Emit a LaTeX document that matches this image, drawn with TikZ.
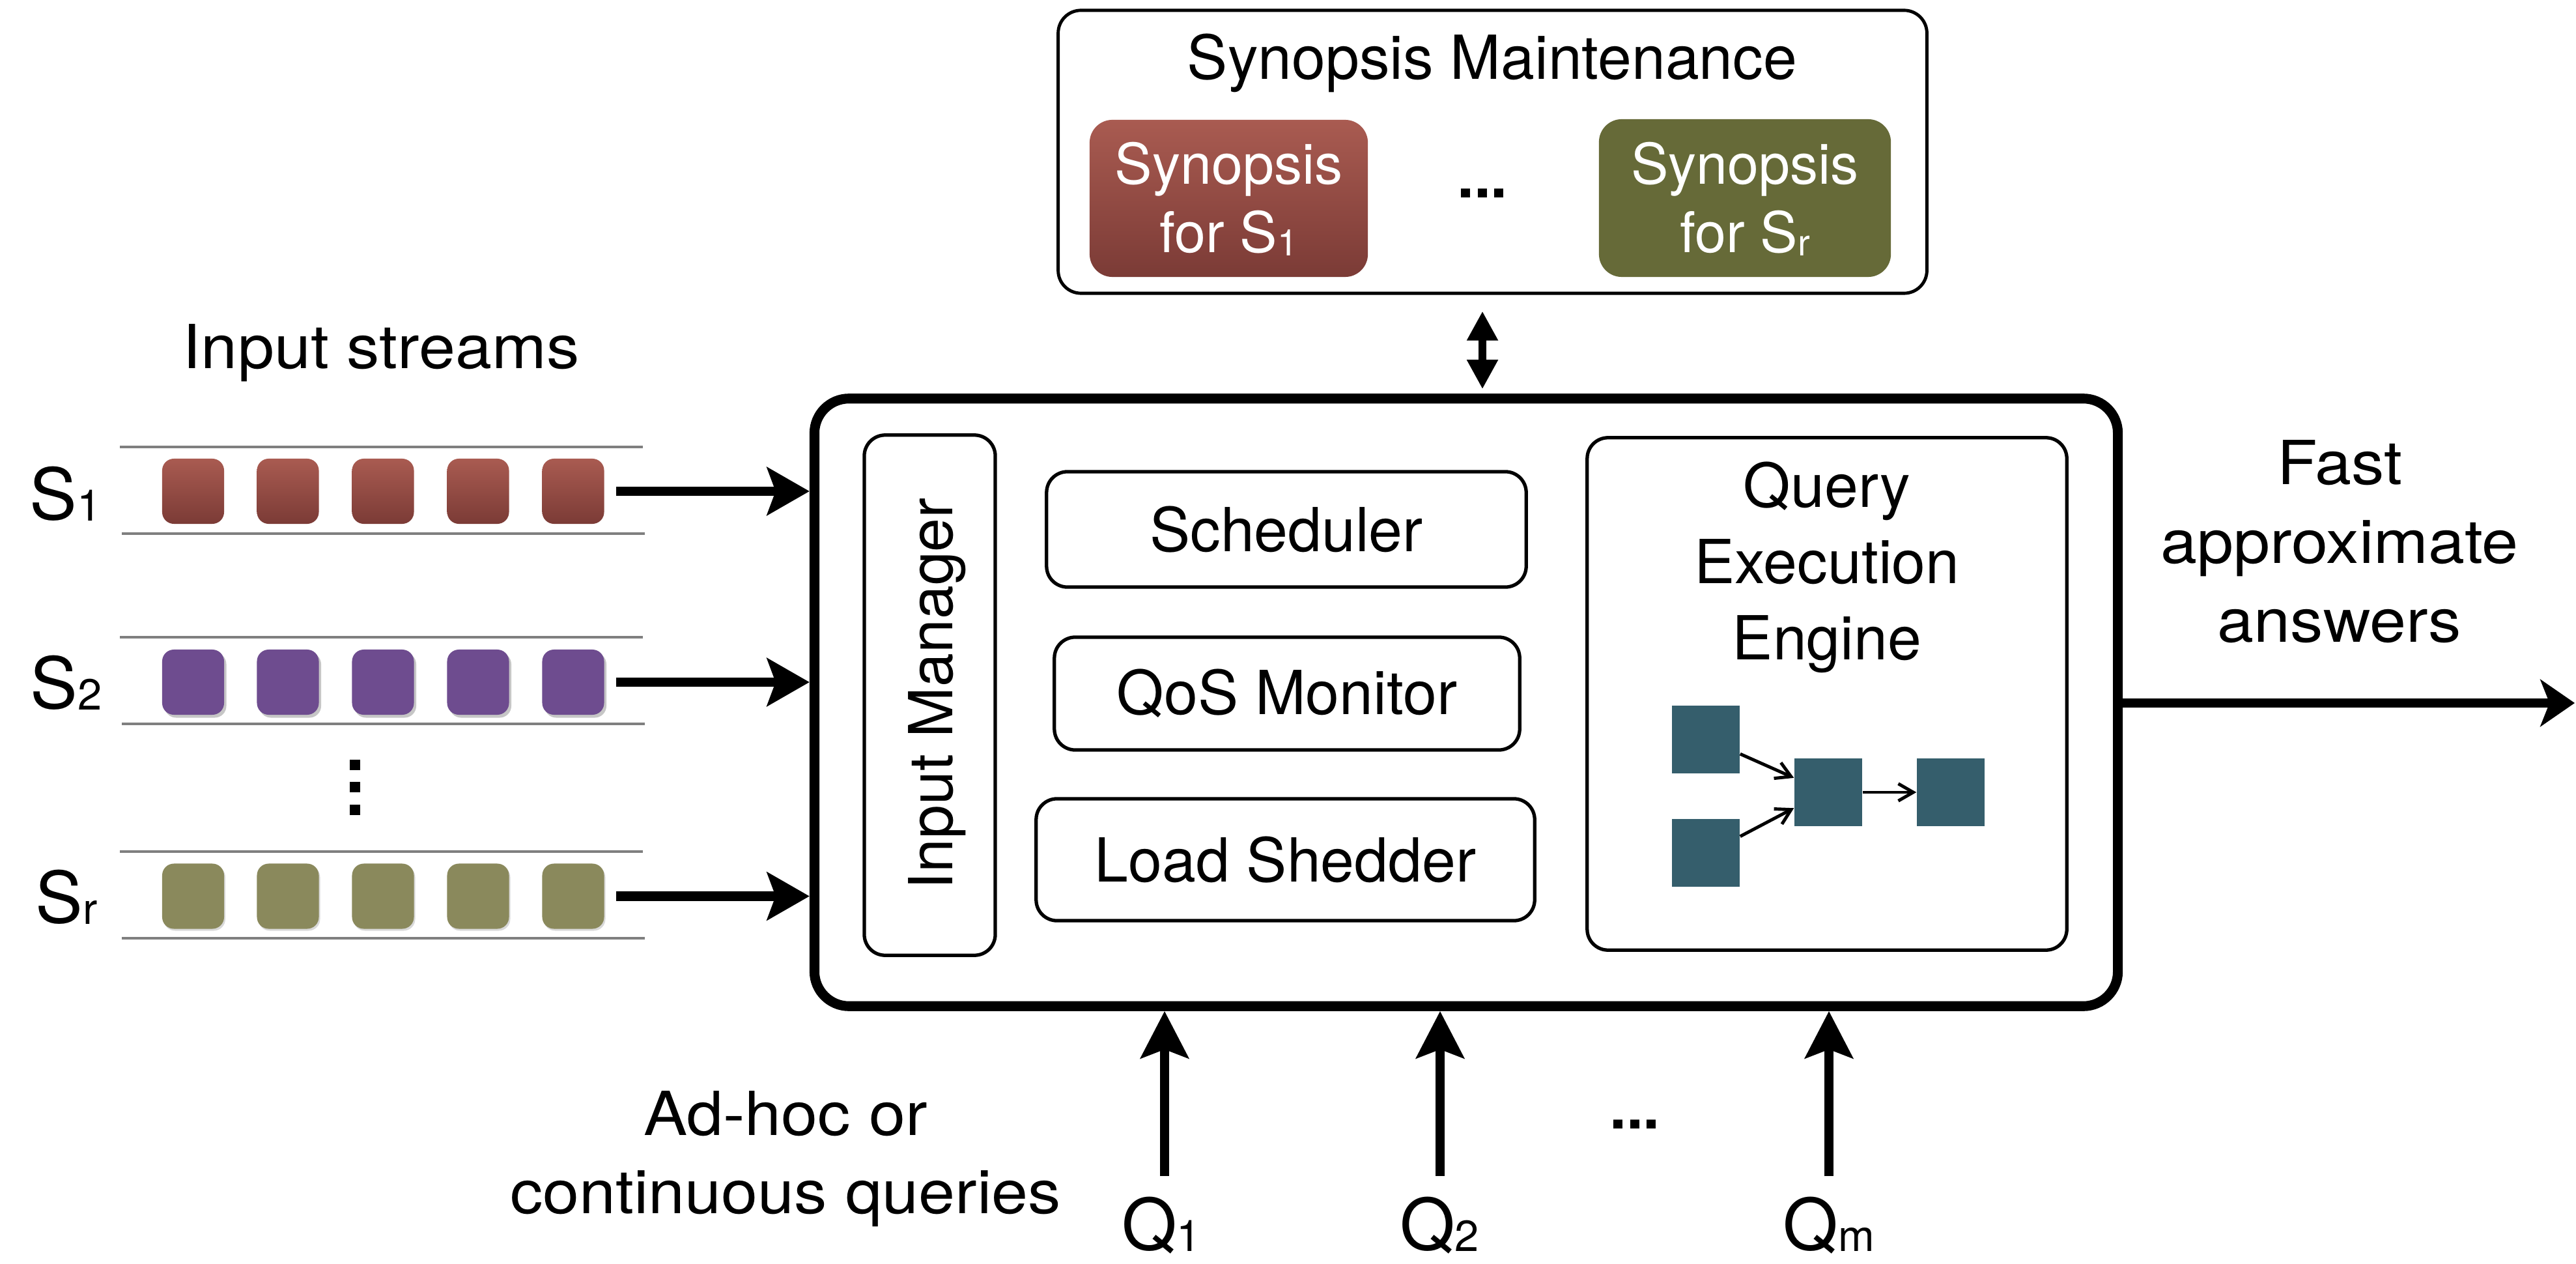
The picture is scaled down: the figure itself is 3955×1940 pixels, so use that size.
\documentclass[tikz,border=0pt]{standalone}
\usepackage{fontspec}
\usepackage{graphicx}
\setmainfont{TeX Gyre Heros}
\usetikzlibrary{arrows.meta,calc,shadows}

\definecolor{synredtop}{HTML}{A95B51}
\definecolor{synredbot}{HTML}{7B3B36}
\definecolor{synolive}{HTML}{666A38}
\definecolor{strpurple}{HTML}{6E4C8F}
\definecolor{strolive}{HTML}{8A895C}
\definecolor{opteal}{HTML}{355E6C}
\definecolor{rail}{HTML}{7F7F7F}

\newcommand{\bodyfont}{\fontsize{26.5}{31}\selectfont}
\newcommand{\labfont}{\fontsize{31}{36}\selectfont}
\newcommand{\synfont}{\fontsize{24.5}{29.6}\selectfont}
% subscript for stream and query labels
\newcommand{\lsub}[1]{{\fontsize{19}{20}\selectfont\raisebox{-0.6pt}{#1}}}
% subscript inside the synopsis boxes
\newcommand{\wsub}[1]{{\fontsize{16}{17}\selectfont\raisebox{-1.4pt}{#1}}}
% stacked centred lines, aligned on the first baseline
\newcommand{\stacked}[2]{{\fontsize{26.5}{#1}\selectfont\begin{tabular}[t]{@{}c@{}}#2\end{tabular}}}
% slightly widened caption text
\newcommand{\wide}[1]{\scalebox{1.08}[1]{#1}}

\begin{document}
\begin{tikzpicture}[x=0.01cm, y=-0.01cm, font=\bodyfont]
\tikzset{
  panel/.style={draw, line width=1.5pt, rounded corners=0.32cm, inner sep=0pt},
  mainbox/.style={draw, line width=4.3pt, rounded corners=0.53cm, inner sep=0pt},
  synbox/.style={rounded corners=0.35cm, inner sep=0pt},
  token/.style={rounded corners=0.18cm, minimum width=0.95cm, minimum height=1cm, inner sep=0pt},
  opbox/.style={fill=opteal, minimum size=1.04cm, inner sep=0pt},
  railline/.style={draw=rail, line width=1.4pt},
  bigarrow/.style={line width=4pt, -{Stealth[length=18.5pt,width=20.8pt,inset=3.7pt]}},
  outarrow/.style={line width=4pt, -{Stealth[length=15pt,width=20.5pt,inset=4pt]}},
  qarrow/.style={line width=4pt, -{Stealth[length=20.5pt,width=20.8pt,inset=3.8pt]}},
  dblarrow/.style={line width=3.4pt, {Triangle[length=12.8pt,width=12.8pt]}-{Triangle[length=12.8pt,width=12.8pt]}},
  minarrow/.style={line width=1.4pt, -{Straight Barb[length=6.5pt,width=7.5pt]}},
  dotsq/.style={fill=black, minimum size=0.165cm, inner sep=0pt},
  lab/.style={font=\labfont, anchor=base west, inner sep=0pt},
  qlab/.style={font=\labfont, anchor=base, inner sep=0pt},
}
\useasboundingbox (0,0) rectangle (3955,1940);

% ---------- synopsis maintenance ----------
\node[draw, line width=1.4pt, rounded corners=0.35cm, minimum width=13.33cm, minimum height=4.34cm, inner sep=0pt]
  (synopsis) at (2291.5,233) {};
\node[anchor=base, inner sep=0pt] (syntitle) at (2291,122) {Synopsis Maintenance};
\node[synbox, top color=synredtop, bottom color=synredbot, minimum width=4.27cm, minimum height=2.41cm]
  (syn1) at (1886.5,304.5) {};
\node[synbox, fill=synolive, minimum width=4.48cm, minimum height=2.42cm]
  (synr) at (2679,304) {};
\node[anchor=base, text=white, inner sep=0pt, font=\synfont] (syn1txt) at (1886.5,283)
  {\begin{tabular}[t]{@{}c@{}}Synopsis\\for S\wsub{1}\end{tabular}};
\node[anchor=base, text=white, inner sep=0pt, font=\synfont] (synrtxt) at (2679,283)
  {\begin{tabular}[t]{@{}c@{}}Synopsis\\for S\wsub{r}\end{tabular}};
\node[inner sep=0pt, font=\bodyfont\bfseries] (syndots) at (2276,297) {...};

% ---------- central engine ----------
\node[mainbox, minimum width=20cm, minimum height=9.32cm] (main) at (2251,1078) {};

\coordinate (dblx) at (2276,0);
\draw[dblarrow, shorten <=0.25cm, shorten >=0.07cm] (synopsis.south -| dblx) -- (main.north -| dblx);

\node[panel, minimum width=2.01cm, minimum height=7.98cm] (inmgr) at (1427.5,1067) {};
\node[rotate=90, inner sep=0pt] (inmgrtxt) at (1439,1065) {Input Manager};

\node[panel, minimum width=7.36cm, minimum height=1.77cm] (sched) at (1975,812.5) {Scheduler};
\node[panel, minimum width=7.14cm, minimum height=1.73cm] (qos) at (1976,1064.5) {QoS Monitor};
\node[panel, minimum width=7.65cm, minimum height=1.87cm] (shed) at (1973.5,1319.5) {Load Shedder};

\node[panel, minimum width=7.36cm, minimum height=7.86cm] (qee) at (2805,1065) {};
\node[anchor=base, inner sep=0pt] (qeetxt) at (2805,778) {\stacked{33.4}{Query\\Execution\\Engine}};

\node[opbox] (opa) at (2619,1135) {};
\node[opbox] (opb) at (2619,1309) {};
\node[opbox] (opc) at (2807,1216) {};
\node[opbox] (opd) at (2995,1216) {};
\draw[minarrow] ($(opa.north east)!0.71!(opa.south east)$) -- ($(opc.north west)!0.29!(opc.south west)$);
\draw[minarrow] ($(opb.north east)!0.26!(opb.south east)$) -- ($(opc.north west)!0.73!(opc.south west)$);
\draw[minarrow] (opc.east) -- (opd.west);

% ---------- input streams ----------
\node[anchor=base, inner sep=0pt] (instr) at (585,566) {\wide{Input streams}};

% rails
\draw[railline] (184,686) -- (987,686);
\draw[railline] (187,819) -- (990,819);
\draw[railline] (184,978) -- (987,978);
\draw[railline] (187,1111) -- (990,1111);
\draw[railline] (184,1307) -- (987,1307);
\draw[railline] (187,1440) -- (990,1440);

% tokens
\foreach \i/\x in {1/296.5,2/442,3/588,4/734,5/880}{
  \node[token, top color=synredtop, bottom color=synredbot] (sa\i) at (\x,754) {};
  \node[token, fill=strpurple, drop shadow={shadow xshift=0.035cm, shadow yshift=-0.045cm, opacity=0.45}] (sb\i) at (\x,1047) {};
  \node[token, fill=strolive, drop shadow={shadow xshift=0.02cm, shadow yshift=-0.03cm, opacity=0.3}] (sc\i) at (\x,1375.5) {};
}

\node[lab] (la) at (45,797) {S\lsub{1}};
\node[lab] (lb) at (46,1087) {S\lsub{2}};
\node[lab] (lc) at (54,1416) {S\lsub{r}};

\node[dotsq] (vd1) at (545,1174) {};
\node[dotsq] (vd2) at (545,1208) {};
\node[dotsq] (vd3) at (545,1243) {};

\draw[bigarrow, shorten <=0.18cm] (sa5.east) -- (sa5.east -| main.west);
\draw[bigarrow, shorten <=0.18cm] (sb5.east) -- (sb5.east -| main.west);
\draw[bigarrow, shorten <=0.18cm] (sc5.east) -- (sc5.east -| main.west);

% ---------- answers ----------
\coordinate (ansend) at (3953,1079);
\draw[outarrow] (main.east |- ansend) -- (ansend);
\node[anchor=base, inner sep=0pt] (anstxt) at (3592,743) {\wide{\stacked{34.5}{Fast\\approximate\\answers}}};

% ---------- queries ----------
\node[anchor=base, inner sep=0pt] (qtxt) at (1206,1742) {\wide{\stacked{34.4}{Ad-hoc or\\continuous queries}}};
\coordinate (qfa) at (1788,1805);
\coordinate (qfb) at (2211,1805);
\coordinate (qfm) at (2808,1805);
\draw[qarrow] (qfa) -- (qfa |- main.south);
\draw[qarrow] (qfb) -- (qfb |- main.south);
\draw[qarrow] (qfm) -- (qfm |- main.south);
\node[qlab] (qa) at (1783,1918) {Q\lsub{1}};
\node[qlab] (qb) at (2210,1918) {Q\lsub{2}};
\node[qlab] (qm) at (2808,1918) {Q\lsub{m}};
\node[inner sep=0pt, font=\bodyfont\bfseries] (qdots) at (2510,1726) {...};
\end{tikzpicture}
\end{document}
